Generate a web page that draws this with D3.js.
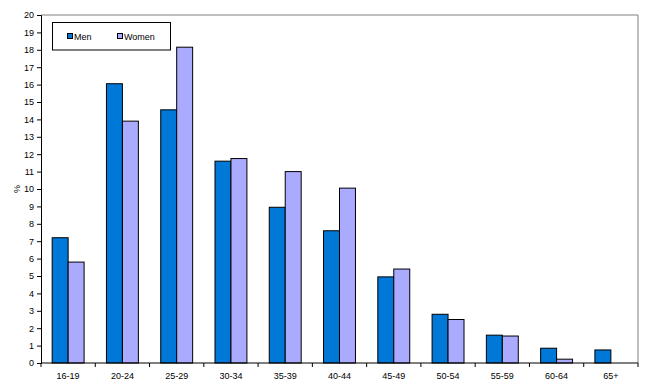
<!DOCTYPE html>
<html>
<head>
<meta charset="utf-8">
<script src="https://cdn.jsdelivr.net/npm/d3@7"></script>
<style>
  body { margin: 0; background: #fff; }
  svg text { font-family: "Liberation Sans", Arial, sans-serif; font-size: 9px; fill: #000; }
</style>
</head>
<body>
<svg id="chart" width="650" height="388"></svg>
<script>
const categories = ["16-19", "20-24", "25-29", "30-34", "35-39", "40-44", "45-49", "50-54", "55-59", "60-64", "65+"]
const men = [7.2, 16.05, 14.55, 11.6, 8.95, 7.6, 4.95, 2.8, 1.6, 0.85, 0.75]
const women = [5.8, 13.9, 18.15, 11.75, 11.0, 10.05, 5.4, 2.5, 1.55, 0.22, 0]
const seriesNames = ["Men", "Women"]
const seriesColors = ["#0078d7", "#aaaaff"]
const yTicks = d3.range(0, 21, 1)

const margin = { top: 15, right: 12, bottom: 25, left: 41 }
const width = 650 - margin.left - margin.right
const height = 388 - margin.top - margin.bottom

const svg = d3.select("#chart")
const g = svg.append("g").attr("transform", `translate(${margin.left},${margin.top})`)

const x = d3.scaleBand().domain(categories).range([0, width])
const inner = d3.scaleBand().domain(seriesNames).range([0, x.bandwidth()]).paddingInner(0).paddingOuter(0.7)
const y = d3.scaleLinear().domain([0, 20]).range([height, 0])

// plot frame (top and right in grey)
g.append("path")
  .attr("d", `M0,0H${width}V${height}`)
  .attr("fill", "none")
  .attr("stroke", "#808080")
  .attr("stroke-width", 1)

const data = categories.map((c, i) => ({ cat: c, values: [men[i], women[i]] }))

const groups = g.selectAll(".grp")
  .data(data)
  .enter().append("g")
  .attr("transform", d => `translate(${x(d.cat)},0)`)

groups.selectAll("rect")
  .data(d => d.values.map((v, j) => ({ name: seriesNames[j], value: v, color: seriesColors[j] })).filter(d => d.value > 0))
  .enter().append("rect")
  .attr("x", d => inner(d.name))
  .attr("y", d => y(d.value))
  .attr("width", inner.bandwidth())
  .attr("height", d => y(0) - y(d.value))
  .attr("fill", d => d.color)
  .attr("stroke", "#000")
  .attr("stroke-width", 1)

// y axis
const yAxis = g.append("g")
  .call(d3.axisLeft(y).tickValues(yTicks).tickSize(4).tickPadding(3).tickFormat(d3.format("d")))
yAxis.select(".domain").attr("stroke", "#000")
yAxis.selectAll("text").style("font-size", "9px")

// x axis with ticks at band edges
const xAxis = g.append("g").attr("transform", `translate(0,${height})`)
xAxis.append("line").attr("x1", 0).attr("x2", width).attr("stroke", "#000")
xAxis.selectAll(".tk")
  .data(d3.range(categories.length + 1))
  .enter().append("line")
  .attr("x1", i => i * x.step())
  .attr("x2", i => i * x.step())
  .attr("y1", 0).attr("y2", 4)
  .attr("stroke", "#000")
xAxis.selectAll(".lbl")
  .data(categories)
  .enter().append("text")
  .attr("x", d => x(d) + x.bandwidth() / 2)
  .attr("y", 16)
  .attr("text-anchor", "middle")
  .text(d => d)

// y label
svg.append("text")
  .attr("transform", `translate(20,${margin.top + height / 2}) rotate(-90)`)
  .attr("text-anchor", "middle")
  .text("%")

// legend
const legend = svg.append("g").attr("transform", "translate(52.5,22.5)")
legend.append("rect")
  .attr("width", 118).attr("height", 27.5)
  .attr("fill", "#fff").attr("stroke", "#000")
const items = legend.selectAll(".item")
  .data(seriesNames)
  .enter().append("g")
  .attr("transform", (d, i) => `translate(${15 + i * 50},11)`)
items.append("rect")
  .attr("width", 5).attr("height", 5)
  .attr("fill", (d, i) => seriesColors[i])
  .attr("stroke", "#000")
items.append("text")
  .attr("x", 6.5).attr("y", 6)
  .text(d => d)
</script>
</body>
</html>
